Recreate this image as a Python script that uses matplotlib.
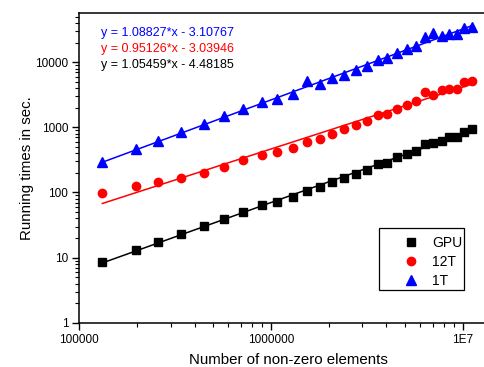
import numpy as np
import matplotlib
matplotlib.use("Agg")
import matplotlib.pyplot as plt
from matplotlib.patches import Rectangle
from matplotlib.ticker import FixedLocator, FixedFormatter, LogLocator, NullFormatter

plt.rcParams['font.family'] = ['Liberation Sans', 'DejaVu Sans']

# number of non-zero elements (shared by all series)
nnz = [131900, 197000, 256000, 340000, 449000, 572000, 718000, 895000,
       1076000, 1298000, 1536000, 1802000, 2089000, 2413000, 2778000,
       3158000, 3630000, 4045000, 4563000, 5107000, 5709000, 6363000,
       7028000, 7780000, 8519000, 9313000, 10190000, 11190000]

gpu = [8.65, 13.1, 17.5, 23.0, 30.6, 39.2, 50.1, 64.3, 70.5, 85.3, 104, 120,
       146.5, 165, 194, 221, 277, 287, 351, 390, 434, 548, 576, 625, 720, 713,
       859, 945]

t12 = [98.3, 124, 143, 167, 199, 243, 311, 377, 419, 483, 597, 664, 800,
       955, 1088, 1238, 1550, 1606, 1937, 2233, 2542, 3450, 3178, 3700, 3930,
       3890, 4910, 5160]

t1 = [297, 459, 625, 850, 1140, 1476, 1918, 2422, 2730, 3260, 5210, 4690,
      5740, 6450, 7620, 8870, 10840, 11640, 13900, 15780, 17540, 24500, 28200,
      25000, 27200, 26800, 33600, 35100]

# fitted lines in log10 space: log10(t) = a * log10(n) + b
fit_gpu = (1.05459, -4.48185)
fit_12t = (0.95126, -3.03946)
fit_1t = (1.08827, -3.10767)

xticks = [1e5, 1e6, 1e7]
xticklabels = ["100000", "1000000", "1E7"]
yticks = [1, 10, 100, 1000, 10000]
yticklabels = ["1", "10", "100", "1000", "10000"]

W, H = 484, 367
fig = plt.figure(figsize=(4.84, 3.67), dpi=100)
# right edge of the axes lies just past the picture's edge
ax = fig.add_axes([79.3 / W, 0.1207, (497 - 79.3) / W, 0.845])
ax.set_xscale('log')
ax.set_yscale('log')


def fit_line(a, b):
    lx = np.log10([nnz[0], nnz[-1]])
    return 10 ** lx, 10 ** (a * lx + b)


for vals, fit, col, mk, ms, lab in [(gpu, fit_gpu, 'black', 's', 5.3, 'GPU'),
                                    (t12, fit_12t, 'red', 'o', 6, '12T'),
                                    (t1, fit_1t, 'blue', '^', 6.8, '1T')]:
    fx, fy = fit_line(*fit)
    ax.plot(fx, fy, color=col, lw=1.1, zorder=2)
    ax.plot(nnz, vals, linestyle='none', marker=mk, ms=ms, color=col,
            label=lab, zorder=3)

ax.set_xlim(1e5, 10 ** (5 + (497 - 79.3) / 191.7))
ax.set_ylim(1, 58000)

ax.xaxis.set_major_locator(FixedLocator(xticks))
ax.xaxis.set_major_formatter(FixedFormatter(xticklabels))
ax.yaxis.set_major_locator(FixedLocator(yticks))
ax.yaxis.set_major_formatter(FixedFormatter(yticklabels))
ax.xaxis.set_minor_locator(LogLocator(base=10, subs=np.arange(2, 10)))
ax.yaxis.set_minor_locator(LogLocator(base=10, subs=np.arange(2, 10)))
ax.xaxis.set_minor_formatter(NullFormatter())
ax.yaxis.set_minor_formatter(NullFormatter())

ax.tick_params(which='major', direction='out', length=5, width=1,
               labelsize=8.5, pad=3)
ax.tick_params(which='minor', direction='out', length=3, width=0.8)
ax.tick_params(top=False, right=False)
for s in ax.spines.values():
    s.set_linewidth(1.1)
ax.spines['right'].set_visible(False)

ax.set_xlabel("Number of non-zero elements", fontsize=10.8, labelpad=5)
ax.set_ylabel("Running times in sec.", fontsize=10.8, labelpad=1)

eqs = [("y = 1.08827*x - 3.10767", 'blue'),
       ("y = 0.95126*x - 3.03946", 'red'),
       ("y = 1.05459*x - 4.48185", 'black')]
for i, (t, c) in enumerate(eqs):
    fig.text(101 / W, 1 - (33.3 + 16 * i) / H, t, color=c, fontsize=9,
             va='center', ha='left')

leg = ax.legend(loc='upper left', bbox_to_anchor=(404 / W, 1 - 236 / H),
                bbox_transform=fig.transFigure, fontsize=10, frameon=False,
                handletextpad=1.0, borderpad=0, borderaxespad=0,
                labelspacing=0.35, handlelength=1.0)
fig.add_artist(Rectangle((379 / W, 1 - 290 / H), 85 / W, 62 / H,
                         transform=fig.transFigure, fill=False,
                         edgecolor='black', linewidth=0.9))

fig.savefig("out.png", dpi=100)
